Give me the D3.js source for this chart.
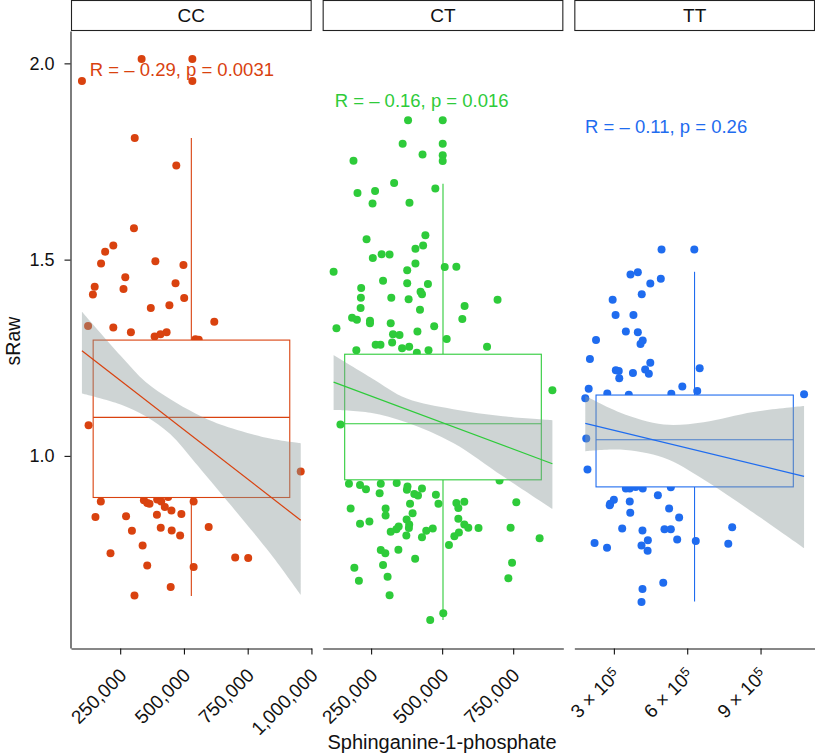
<!DOCTYPE html>
<html>
<head>
<meta charset="utf-8">
<script src="https://cdn.jsdelivr.net/npm/d3@7"></script>
<style>
  body { margin: 0; background: #fff; }
  svg { display: block; font-family: "Liberation Sans", Arial, Helvetica, sans-serif; }
</style>
</head>
<body>
<div id="chart"></div>
<script>
// genotype facets
var genotypes = ["CC", "CT", "TT"];

// Sphinganine-1-phosphate (thousands) and sRaw
var ccX = [100,334,533,533,307,470,304,223,191,175, 388,498,270,150,143,263,467,501,370,443,
           619,124,223,292,385,408,432,545,558,126, 958,174,343,356,365,395,411,438,538,425,
           451,490,153,273,394,597,296,409,452,485, 338,212,701,752,356,538,448,306];
var ccY = [1.955,2.011,2.011,1.955,1.810,1.740,1.580,1.536,1.520,1.490, 1.496,1.486,1.455,1.431,1.411,1.425,1.440,1.402,1.377,1.384,
           1.342,1.331,1.327,1.315,1.304,1.310,1.315,1.297,1.296,1.078, 0.960,0.884,0.887,0.880,0.878,0.889,0.884,0.895,0.884,0.870,
           0.861,0.852,0.844,0.846,0.850,0.819,0.809,0.817,0.810,0.797, 0.772,0.752,0.741,0.740,0.721,0.717,0.666,0.644];

var ctX = [380,502,361,502,431,502,502,188,331,476, 202,264,255,385,234,441,433,406,256,287,
           315,118,406,377,509,550,292,215,377,450, 424,429,214,321,382,695,579,213,422,183,
           200,246,246,571,319,472,128,516,327,350, 324,413,266,283,359,384,198,452,658,411,
           888,142,172,211,232,284,340,378,376,429, 702,280,402,415,478,487,387,550,557,578,
           761,178,301,301,396,211,244,375,384,383, 347,339,319,374,444,467,429,557,578,592,
           628,559,543,741,843,524,284,300,346,405, 746,191,292,308,207,733,315,504,458];
var ctY = [1.855,1.855,1.795,1.795,1.768,1.766,1.751,1.752,1.695,1.681, 1.670,1.675,1.643,1.645,1.552,1.562,1.536,1.528,1.504,1.514,
           1.513,1.469,1.490,1.473,1.481,1.482,1.446,1.428,1.440,1.438, 1.418,1.412,1.403,1.403,1.399,1.398,1.382,1.377,1.372,1.352,
           1.347,1.344,1.338,1.349,1.338,1.330,1.325,1.298,1.310,1.308, 1.289,1.317,1.283,1.283,1.274,1.278,1.269,1.269,1.278,1.263,
           1.167,1.080,0.929,0.926,0.915,0.929,0.931,0.922,0.914,0.917, 0.937,0.905,0.903,0.899,0.901,0.878,0.878,0.880,0.867,0.883,
           0.882,0.866,0.866,0.848,0.854,0.827,0.833,0.838,0.825,0.816, 0.820,0.813,0.807,0.797,0.809,0.815,0.793,0.840,0.825,0.817,
           0.816,0.805,0.795,0.817,0.790,0.773,0.760,0.752,0.761,0.738, 0.728,0.715,0.722,0.692,0.682,0.688,0.645,0.599,0.582];

var ttX = [495,629,368,398,449,492,414,295,307,380, 349,398,227,418,409,202,449,308,320,322,
           378,428,443,651,580,641,197,273,361,535, 183,1078,187,192,349,365,389,418,533,480,
           300,285,283,365,526,367,567,334,417,507, 533,784,559,221,272,439,413,438,635,768,
           502,417,413];
var ttY = [1.526,1.526,1.462,1.468,1.439,1.451,1.412,1.398,1.359,1.359, 1.317,1.315,1.295,1.294,1.285,1.247,1.237,1.218,1.216,1.198,
           1.211,1.220,1.209,1.223,1.177,1.165,1.171,1.159,1.156,1.158, 1.147,1.157,1.044,0.965,0.917,0.917,0.921,0.917,0.920,0.900,
           0.888,0.878,0.874,0.884,0.866,0.855,0.843,0.815,0.810,0.813, 0.813,0.818,0.787,0.778,0.766,0.785,0.772,0.758,0.783,0.776,
           0.677,0.661,0.628];

// box statistics: lower whisker, Q1, median, Q3, upper whisker
var ccBox = [0.643, 0.894, 1.098, 1.295, 1.810];
var ctBox = [0.582, 0.939, 1.082, 1.259, 1.693];
var ttBox = [0.629, 0.921, 1.041, 1.155, 1.469];
// box extent along x (thousands): left, centre, right
var ccBoxX = [144, 529, 915];
var ctBoxX = [157, 503, 849];
var ttBoxX = [227, 630, 1034];

// linear fits
var ccFitX = [100, 958], ccFitY = [1.268, 0.836];
var ctFitX = [118, 888], ctFitY = [1.188, 0.980];
var ttFitX = [183, 1078], ttFitY = [1.083, 0.948];

// confidence bands
var ccBandX  = [100, 252, 350, 447, 545, 643, 838, 958];
var ccBandHi = [1.367, 1.255, 1.188, 1.144, 1.108, 1.080, 1.044, 1.032];
var ccBandLo = [1.159, 1.131, 1.101, 1.055, 0.982, 0.906, 0.752, 0.646];
var ctBandX  = [118, 248, 376, 539, 714, 888];
var ctBandHi = [1.257, 1.200, 1.146, 1.119, 1.101, 1.091];
var ctBandLo = [1.117, 1.110, 1.085, 1.033, 0.948, 0.865];
var ttBandX  = [183, 327, 504, 667, 871, 1078];
var ttBandHi = [1.153, 1.110, 1.080, 1.086, 1.112, 1.127];
var ttBandLo = [1.012, 1.016, 0.995, 0.940, 0.855, 0.765];

// correlation labels
var corLabels = ["R = \u2013 0.29, p = 0.0031", "R = \u2013 0.16, p = 0.016", "R = \u2013 0.11, p = 0.26"];
var corX = [131, 122, 182];
var corY = [1.985, 1.906, 1.840];

// ticks
var ccTicks = [250, 500, 750, 1000];
var ctTicks = [250, 500, 750];
var ttTicks = [300, 600, 900];
var yTicks = [1.0, 1.5, 2.0];

var colors = ["#d9420f", "#2ecb3a", "#1f6cef"];

var width = 815, height = 755;
var panelTop = 31, panelBottom = 648;
var left0 = 71, gap = 11;
var panelW = (width - left0 - 2 * gap) / 3;

var panels = [
    { x: ccX, y: ccY, box: ccBox, boxX: ccBoxX, fitX: ccFitX, fitY: ccFitY, bandX: ccBandX, bandHi: ccBandHi, bandLo: ccBandLo, ticks: ccTicks },
    { x: ctX, y: ctY, box: ctBox, boxX: ctBoxX, fitX: ctFitX, fitY: ctFitY, bandX: ctBandX, bandHi: ctBandHi, bandLo: ctBandLo, ticks: ctTicks },
    { x: ttX, y: ttY, box: ttBox, boxX: ttBoxX, fitX: ttFitX, fitY: ttFitY, bandX: ttBandX, bandHi: ttBandHi, bandLo: ttBandLo, ticks: ttTicks }
];

// ggplot-like 5% expansion
function expand(ext) {
    var d = (ext[1] - ext[0]) * 0.05;
    return [ext[0] - d, ext[1] + d];
}

var svg = d3.select("#chart").append("svg")
    .attr("width", width)
    .attr("height", height);

var yScale = d3.scaleLinear()
    .domain(expand(d3.extent(ccY.concat(ctY, ttY))))
    .range([panelBottom, panelTop]);

// y axis
var yAxis = svg.append("g")
    .attr("transform", "translate(" + (left0 - 0.5) + ",0)")
    .call(d3.axisLeft(yScale).tickValues(yTicks).tickSize(6).tickSizeOuter(0).tickPadding(10)
        .tickFormat(d3.format(".1f")));
yAxis.selectAll("text").attr("font-size", 18).attr("fill", "#111");
yAxis.selectAll("path, line").attr("stroke", "#111").attr("stroke-width", 1.1);

svg.append("text")
    .attr("transform", "translate(19.5,341) rotate(-90)")
    .attr("text-anchor", "middle")
    .attr("font-size", 19.5)
    .attr("fill", "#111")
    .text("sRaw");

svg.append("text")
    .attr("x", 442)
    .attr("y", 749)
    .attr("text-anchor", "middle")
    .attr("font-size", 20)
    .attr("fill", "#111")
    .text("Sphinganine-1-phosphate");

var band = d3.area().curve(d3.curveCatmullRom);
var fitLine = d3.line();

panels.forEach(function(p, i) {
    var x0 = left0 + i * (panelW + gap);
    var col = colors[i];
    var x = d3.scaleLinear().domain(expand(d3.extent(p.x))).range([x0, x0 + panelW]);
    var y = yScale;

    // strip
    svg.append("rect")
        .attr("x", x0 + 0.5).attr("y", 0.5)
        .attr("width", panelW - 1).attr("height", panelTop - 1)
        .attr("fill", "#fff").attr("stroke", "#222").attr("stroke-width", 1.1);
    svg.append("text")
        .attr("x", x0 + panelW / 2).attr("y", panelTop / 2)
        .attr("dy", "0.35em")
        .attr("text-anchor", "middle")
        .attr("font-size", 19)
        .attr("fill", "#111")
        .text(genotypes[i]);

    var g = svg.append("g");

    // points
    g.selectAll("circle")
        .data(d3.range(p.x.length))
        .enter()
        .append("circle")
        .attr("cx", function(k) { return x(p.x[k]); })
        .attr("cy", function(k) { return y(p.y[k]); })
        .attr("r", 4)
        .attr("fill", col);

    // box with whiskers
    g.append("line")
        .attr("x1", x(p.boxX[1])).attr("x2", x(p.boxX[1]))
        .attr("y1", y(p.box[3])).attr("y2", y(p.box[4]))
        .attr("stroke", col).attr("stroke-width", 1.1);
    g.append("line")
        .attr("x1", x(p.boxX[1])).attr("x2", x(p.boxX[1]))
        .attr("y1", y(p.box[1])).attr("y2", y(p.box[0]))
        .attr("stroke", col).attr("stroke-width", 1.1);
    g.append("rect")
        .attr("x", x(p.boxX[0])).attr("width", x(p.boxX[2]) - x(p.boxX[0]))
        .attr("y", y(p.box[3])).attr("height", y(p.box[1]) - y(p.box[3]))
        .attr("fill", "#fff").attr("stroke", col).attr("stroke-width", 1.1);
    g.append("line")
        .attr("x1", x(p.boxX[0])).attr("x2", x(p.boxX[2]))
        .attr("y1", y(p.box[2])).attr("y2", y(p.box[2]))
        .attr("stroke", col).attr("stroke-width", 1.1);

    // confidence band and fit
    band.x(function(k) { return x(p.bandX[k]); })
        .y0(function(k) { return y(p.bandLo[k]); })
        .y1(function(k) { return y(p.bandHi[k]); });
    g.append("path")
        .attr("d", band(d3.range(p.bandX.length)))
        .attr("fill", "#8a9898").attr("fill-opacity", 0.42);

    fitLine.x(function(k) { return x(p.fitX[k]); })
        .y(function(k) { return y(p.fitY[k]); });
    g.append("path")
        .attr("d", fitLine(d3.range(p.fitX.length)))
        .attr("fill", "none").attr("stroke", col).attr("stroke-width", 1.2);

    // correlation label
    g.append("text")
        .attr("x", x(corX[i])).attr("y", y(corY[i]))
        .attr("dy", "0.35em")
        .attr("font-size", 18.5)
        .attr("fill", col)
        .text(corLabels[i]);

    // x axis
    var ax = svg.append("g")
        .attr("transform", "translate(0," + (panelBottom + 0.5) + ")")
        .call(d3.axisBottom(x).tickValues(p.ticks).tickSize(6).tickSizeOuter(0)
            .tickFormat(function(v) { return d3.format(",")(v * 1000); }));
    ax.selectAll("path, line").attr("stroke", "#111").attr("stroke-width", 1.1);
    var lab = ax.selectAll("text")
        .attr("x", 0).attr("y", 0).attr("dy", null)
        .attr("text-anchor", "end")
        .attr("font-size", 19)
        .attr("fill", "#111")
        .attr("transform", "translate(7,28) rotate(-45)");
    if (i === 2) {
        lab.text(null);
        lab.append("tspan").text(function(v) { return (v / 100) + " \u00d7 10"; });
        lab.append("tspan").attr("dy", "-0.45em").attr("font-size", 13).text("5");
    }
});
</script>
</body>
</html>
